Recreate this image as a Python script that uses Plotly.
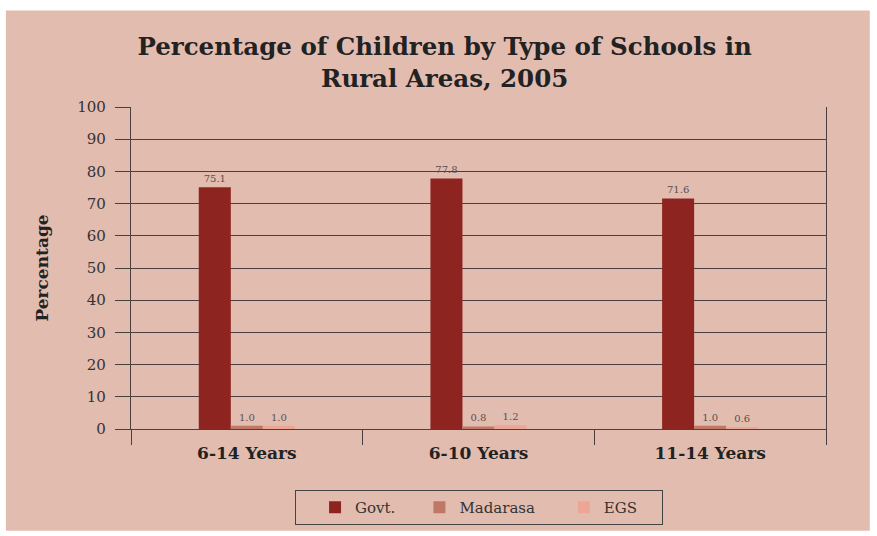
import plotly.graph_objects as go

# Age groups and share of children (%) by type of school
age_groups = ["6-14 Years", "6-10 Years", "11-14 Years"]
govt = [75.1, 77.8, 71.6]
madarasa = [1.0, 0.8, 1.0]
egs = [1.0, 1.2, 0.6]

NB = "\u00a0"
series = [
    ("Govt." + NB * 4, govt, "#8e2420"),
    ("Madarasa" + NB * 5, madarasa, "#c07866"),
    ("EGS" + NB * 4, egs, "#eda695"),
]

BG = "#e3bcb0"
INK = "#4a4040"
SERIF = "DejaVu Serif, Liberation Serif, serif"

fig = go.Figure()
for name, vals, color in series:
    fig.add_trace(go.Bar(
        x=age_groups,
        y=vals,
        name=name,
        marker=dict(color=color, line=dict(width=0)),
        text=[f"{v:.1f}" for v in vals],
        textposition="outside",
        textfont=dict(family=SERIF, size=10, color="#555050"),
        cliponaxis=False,
    ))

fig.update_layout(
    width=877,
    height=536,
    margin=dict(l=131, r=51, t=107, b=106),
    paper_bgcolor="white",
    plot_bgcolor=BG,
    barmode="group",
    bargap=0.585,
    bargroupgap=0,
    title=dict(
        text="Percentage of Children by Type of Schools in<br>Rural Areas, 2005",
        x=0.507,
        xanchor="center",
        y=0.897,
        yanchor="middle",
        font=dict(family=SERIF, size=24.5, color="#222222", weight="bold"),
    ),
    font=dict(family=SERIF, color="#333333"),
    legend=dict(
        orientation="h",
        x=0.5,
        xanchor="center",
        y=-0.186,
        yanchor="top",
        bgcolor="rgba(0,0,0,0)",
        bordercolor="#444444",
        borderwidth=1,
        font=dict(family=SERIF, size=15, color="#333333"),
        traceorder="normal",
        title=dict(text=NB * 2, font=dict(family=SERIF, size=15)),
    ),
    showlegend=True,
    shapes=[
        dict(
            type="rect", xref="paper", yref="paper",
            x0=-0.18, x1=1.063, y0=-0.316, y1=1.30,
            fillcolor=BG, line=dict(width=0), layer="below",
        )
    ],
)

fig.update_xaxes(
    type="category",
    showline=True,
    linecolor=INK,
    linewidth=1.2,
    tickson="boundaries",
    ticks="outside",
    ticklen=15,
    tickcolor=INK,
    tickwidth=1.2,
    showgrid=False,
    ticklabelstandoff=8,
    tickfont=dict(family=SERIF, size=17, color="#222222", weight="bold"),
)

fig.update_yaxes(
    range=[0, 100],
    dtick=10,
    showline=True,
    mirror=True,
    linecolor=INK,
    linewidth=1.2,
    ticks="outside",
    ticklen=15,
    tickcolor=INK,
    tickwidth=1.2,
    showgrid=True,
    gridcolor=INK,
    gridwidth=1.2,
    zeroline=False,
    ticklabelstandoff=6,
    tickfont=dict(family=SERIF, size=15, color="#333333"),
    title=dict(
        text="Percentage",
        font=dict(family=SERIF, size=17, color="#222222", weight="bold"),
        standoff=24,
    ),
)

fig.write_html("out.html")
